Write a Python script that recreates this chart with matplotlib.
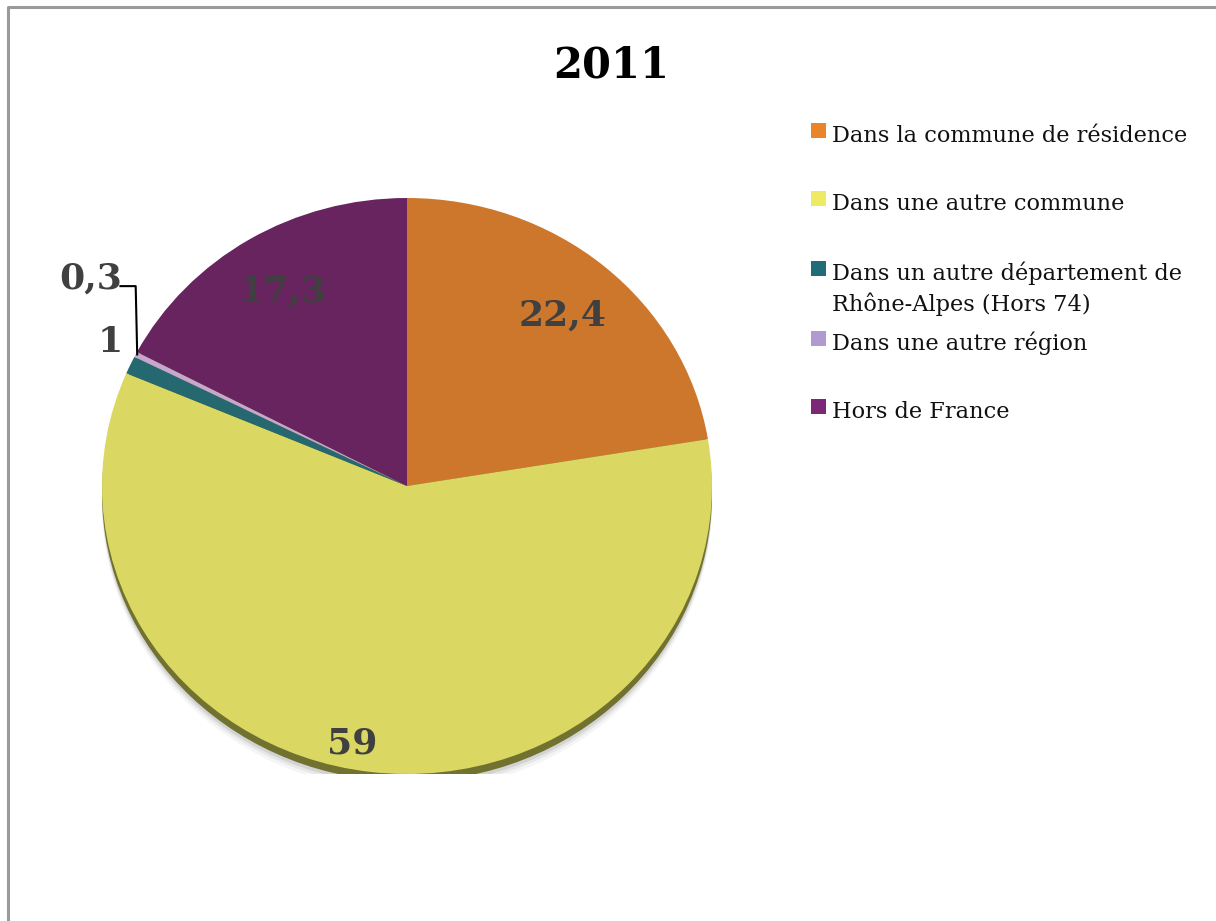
import numpy as np
import matplotlib
matplotlib.use("Agg")
import matplotlib.pyplot as plt
from matplotlib.patches import Ellipse, Rectangle
from matplotlib.lines import Line2D

# ---- data ----
title = "2011"
categories = [
    "Dans la commune de résidence",
    "Dans une autre commune",
    "Dans un autre département de\nRhône-Alpes (Hors 74)",
    "Dans une autre région",
    "Hors de France",
]
values = [22.4, 59, 1, 0.3, 17.3]
value_labels = ["22,4", "59", "1", "0,3", "17,3"]

# ---- style ----
pie_colors = ["#CD772D", "#DAD863", "#25686F", "#C7A6CF", "#67245F"]
legend_colors = ["#EA8429", "#EEEA62", "#226C78", "#B09AD0", "#7B2877"]
label_r = [0.79, 0.90, 1.10, 1.27, 0.80]
label_dtheta = [0.0, -4.7, -3.0, -8.0, -0.5]
W, H = 1216, 921

fig = plt.figure(figsize=(W / 100, H / 100), dpi=100)

# background axes in pixel coords
bg = fig.add_axes([0, 0, 1, 1])
bg.set_xlim(0, W)
bg.set_ylim(H, 0)
bg.axis("off")
bg.add_line(Line2D([8, 8, W + 5], [H + 5, 7, 7], color="#9a9a9a", lw=2.2))

bg.text(611, 77, title, ha="center", va="baseline", fontsize=30,
        fontweight="bold", family="DejaVu Serif", color="black")

# legend (manual)
baselines = [142, 210, 280, 350, 418]
line_step = 31
for lab, col, yb in zip(categories, legend_colors, baselines):
    bg.add_patch(Rectangle((811, yb - 19), 15, 15, facecolor=col, edgecolor="none"))
    for k, line in enumerate(lab.split("\n")):
        bg.text(832, yb + k * line_step, line, ha="left", va="baseline", fontsize=16.2,
                family="DejaVu Serif", color="#111111")

# pie axes (elliptical pie)
cx, cy, rx, ry = 407, 486, 305, 288
ax = fig.add_axes([(cx - rx) / W, (H - (cy + ry)) / H, 2 * rx / W, 2 * ry / H])
ax.set_zorder(1)

# shadow
for i, (dy, a) in enumerate([(0.06, 0.05), (0.048, 0.08), (0.038, 0.12)]):
    ax.add_patch(Ellipse((0, -dy), 2.0, 2.0, facecolor="#444444",
                         alpha=a, edgecolor="none", zorder=0))
ax.add_patch(Ellipse((0, -0.026), 2.0, 2.0, facecolor="#727230", edgecolor="none", zorder=0.5))

wedges, _ = ax.pie(values, colors=pie_colors, startangle=90, counterclock=False,
                   radius=1, wedgeprops=dict(linewidth=0.3, edgecolor="none"))
for w in wedges:
    w.set_zorder(1)
ax.set_aspect("auto")
ax.set_xlim(-1, 1)
ax.set_ylim(-1, 1)
ax.axis("off")

mids = []
for w, lab, r, dth in zip(wedges, value_labels, label_r, label_dtheta):
    m = 0.5 * (w.theta1 + w.theta2)
    mids.append(m)
    a = np.deg2rad(m + dth)
    ax.text(r * np.cos(a), r * np.sin(a), lab, ha="center", va="center_baseline",
            fontsize=26, fontweight="bold", family="DejaVu Serif", color="#404040",
            zorder=5)

# leader line for the tiny slice (index 3)
m = np.deg2rad(mids[3])
ex, ey = np.cos(m), np.sin(m)
ly = 0.694
ax.add_line(Line2D([ex - 0.05, ex, ex + 0.005], [ly, ly, ey], color="black", lw=1.5,
                   zorder=5))

fig.savefig("out.png", dpi=100)
